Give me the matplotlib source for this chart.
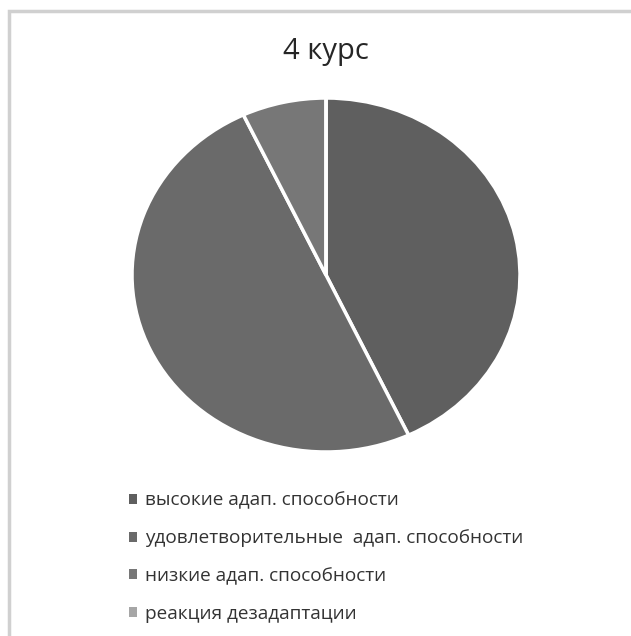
###############################################################################
### Pie chart: adaptation levels, 4th year
###############################################################################

#------------------------------------------------------------------------------
### Import packages
import matplotlib.pyplot as plt
from matplotlib.patches import Rectangle

#------------------------------------------------------------------------------
### Data
TITLE = '4 курс'
labels = ['высокие адап. способности',
          'удовлетворительные  адап. способности',
          'низкие адап. способности',
          'реакция дезадаптации']
values = [43, 50, 7, 0]

#------------------------------------------------------------------------------
### Style
colors = ['#5f5f5f', '#6a6a6a', '#777777', '#a6a6a6']
FONT = ['Open Sans', 'DejaVu Sans']
W, H = 631, 636

fig = plt.figure(figsize=(W / 100, H / 100), dpi=100)

# Light grey frame (cropped on the right and bottom)
fig.patches.append(Rectangle((8.5 / W, -0.1), 1.2, 1 - 11 / H + 0.1,
                             transform=fig.transFigure, fill=False,
                             edgecolor='#d0d0d0', linewidth=2.5))

# Pie axes, slightly wider than tall like the source
cx, cy, rx, ry = 326, 275, 194, 177
ax = fig.add_axes([(cx - rx) / W, (H - cy - ry) / H, 2 * rx / W, 2 * ry / H])
wedges, _ = ax.pie(values, colors=colors, startangle=90, counterclock=False,
                   wedgeprops=dict(edgecolor='white', linewidth=2.5))
ax.set_xlim(-1, 1)
ax.set_ylim(-1, 1)
ax.set_aspect('auto')
ax.axis('off')

# Title
fig.text(cx / W, 1 - 52 / H, TITLE, ha='center', va='center',
         fontsize=21, color='#262626', family=FONT)

# Legend
leg = fig.legend(wedges, labels, loc='upper left',
                 bbox_to_anchor=(121 / W, 1 - 484 / H), frameon=False,
                 prop=dict(family=FONT, size=13.7),
                 handlelength=0.43, handleheight=0.43, handletextpad=0.45,
                 labelspacing=1.04, borderaxespad=0)
for t in leg.get_texts():
    t.set_color('#333333')
for h in leg.legend_handles:
    h.set_edgecolor('none')

fig.savefig('out.png', dpi=100)
plt.close()
